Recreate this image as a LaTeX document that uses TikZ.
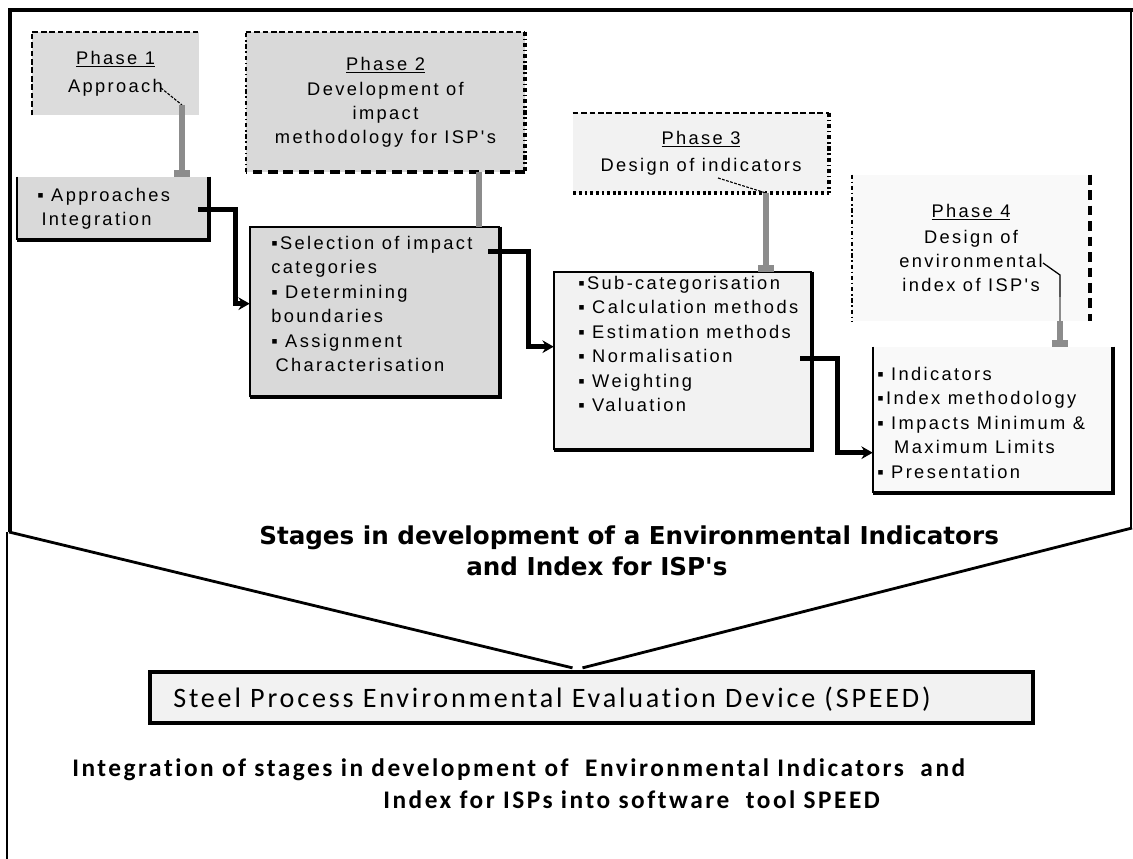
\documentclass[tikz,border=0pt]{standalone}
\usepackage{fontspec}
\setmainfont{Liberation Sans}
\newfontfamily\boxfont[LetterSpace=13]{Liberation Sans}
\newfontfamily\toolfont[LetterSpace=10, Ligatures={NoCommon}]{Carlito}
\newfontfamily\headfont{DejaVu Sans}
\usetikzlibrary{calc,arrows.meta}

\definecolor{phasegray}{HTML}{DCDCDC}
\definecolor{stagegray}{HTML}{D9D9D9}
\definecolor{palegray}{HTML}{F2F2F2}
\definecolor{whitegray}{HTML}{F9F9F9}
\definecolor{linkgray}{HTML}{8C8C8C}

\begin{document}
\begin{tikzpicture}[
    x=0.025cm, y=-0.025cm,
    >={Stealth[length=8pt,width=9pt]},
    phase/.style={inner sep=0pt, align=center, font=\boxfont\fontsize{13}{17}\selectfont},
    stage/.style={inner sep=0pt},
    stagetext/.style={anchor=north west, inner sep=0pt, align=left, font=\boxfont\fontsize{13}{17.4}\selectfont},
    conn/.style={line width=3.6pt},
    link/.style={draw=linkgray, line width=4.2pt},
    foot/.style={link, -{Rectangle[length=5pt,width=11pt]}},
    callout/.style={line width=0.8pt, dash pattern=on 2pt off 1pt},
    thinedge/.style={line width=1.2pt},
    thickedge/.style={line width=2.6pt},
    shortdash/.style={dash pattern=on 4pt off 2pt},
    longdash/.style={dash pattern=on 7pt off 4pt},
    dotdash/.style={dash pattern=on 3pt off 2pt on 1pt off 2pt},
    heading/.style={font=\headfont\bfseries\fontsize{17.5}{20}\selectfont, inner sep=0pt, anchor=west},
    toolhead/.style={font=\toolfont\bfseries\fontsize{18}{20}\selectfont, inner sep=0pt, anchor=west}
]
\useasboundingbox (0,0) rectangle (1133,859);

% Outer frame
\draw[line width=3.4pt] (1133,10) -- (10,10) -- (10,532);
\draw[line width=1.4pt] (1131,10) -- (1131,528);
\draw[line width=1.2pt] (7,532) -- (7,859);

% Phases
\node[phase, fill=phasegray, minimum width=4.175cm, minimum height=2.075cm] (ph1) at (115.5,73.5) {\underline{Phase 1}\\[3pt]Approach};
\node[phase, fill=stagegray, minimum width=6.975cm, minimum height=3.5cm] (ph2) at (385.5,102) {\underline{Phase 2}\\[1pt]Development of\\impact\\methodology for ISP's};
\node[phase, fill=palegray, minimum width=6.4cm, minimum height=2cm] (ph3) at (701,153) {\underline{Phase 3}\\[2pt]Design of indicators};
\node[phase, fill=whitegray, minimum width=5.95cm, minimum height=3.65cm] (ph4) at (971,248) {\underline{Phase 4}\\[2pt]Design of\\environmental\\index of ISP's};

\draw[thinedge, shortdash] (ph1.south west) -- (ph1.north west) -- (ph1.north east);
\draw[thinedge, dotdash] (ph2.south west) -- (ph2.north west);
\draw[thinedge, shortdash] (ph2.north west) -- (ph2.north east);
\draw[thickedge, dotdash] (ph2.north east) -- (ph2.south east);
\draw[thickedge, longdash] (ph2.south east) -- (ph2.south west);
\draw[thinedge, shortdash] (ph3.north west) -- (ph3.north east);
\draw[thickedge, dotdash] (ph3.north east) -- (ph3.south east);
\draw[thickedge, dash pattern=on 2pt off 2pt] (ph3.south east) -- (ph3.south west);
\draw[thinedge, dotdash] (ph4.north west) -- (ph4.south west);
\draw[thickedge, longdash] (ph4.north east) -- (ph4.south east);

% Stages
\node[stage, fill=stagegray, minimum width=4.8cm, minimum height=1.575cm] (appr) at (113,208.5) {};
\node[stage, fill=stagegray, minimum width=6.25cm, minimum height=4.25cm] (impact) at (375,312) {};
\node[stage, fill=palegray, minimum width=6.45cm, minimum height=4.45cm] (indic) at (683,361) {};
\node[stage, fill=whitegray, minimum width=6cm, minimum height=3.65cm] (envidx) at (993,420) {};

\draw[thinedge] (appr.north west) -- (appr.south west);
\draw[thickedge] (appr.north east) -- (appr.south east) -- (appr.south west);
\draw[thinedge] (impact.south west) -- (impact.north west) -- (impact.north east);
\draw[thickedge] (impact.north east) -- (impact.south east) -- (impact.south west);
\draw[thinedge] (indic.south west) -- (indic.north west) -- (indic.north east);
\draw[thickedge] (indic.north east) -- (indic.south east) -- (indic.south west);
\draw[thinedge] (envidx.north west) -- (envidx.south west);
\draw[thickedge] (envidx.north east) -- (envidx.south east) -- (envidx.south west);

\node[stagetext] (apprtxt) at (37,188) {▪ Approaches\\\hspace*{3pt}Integration};
\node[stagetext] (impacttxt) at (271,236) {▪Selection of impact\\categories\\▪ Determining\\boundaries\\▪ Assignment\\\hspace*{3pt}Characterisation};
\node[stagetext] (indictxt) at (578,276) {▪Sub-categorisation\\▪ Calculation methods\\▪ Estimation methods\\▪ Normalisation\\▪ Weighting\\▪ Valuation};
\node[stagetext] (envidxtxt) at (877,367) {▪ Indicators\\▪Index methodology\\▪ Impacts Minimum \&\\\hspace*{12pt}Maximum Limits\\▪ Presentation};

% Stage connections
\draw[conn, ->] ($(appr.north east)+(-11,33)$) -- ++(37,0) |- ($(impact.north west)+(0,77)$);
\draw[conn, ->] ($(impact.north east)+(-12,25)$) -- ++(40,0) |- ($(indic.north west)+(0,75)$);
\draw[conn, ->] ($(indic.north east)+(-12,87)$) -- ++(37,0) |- ($(envidx.north west)+(0,106)$);

% Phase links
\coordinate (c1t) at (161,88);
\coordinate (c1) at (182,105);
\draw[callout] (c1t) -- (c1);
\draw[foot] (c1) -- (c1 |- appr.north);

\coordinate (c2) at (479,172);
\draw[link] (c2) -- (c2 |- impact.north);

\coordinate (c3t) at (718,178);
\coordinate (c3) at (766,193);
\draw[callout] (c3t) -- (c3);
\draw[foot] (c3) -- (c3 |- indic.north);

\coordinate (c4t) at (1043,263);
\coordinate (c4) at (1060,275);
\draw[line width=0.9pt] (c4t) -- (c4) -- ++(0,22);
\draw[link, line width=1.8pt] ($(c4)+(0,22)$) -- (c4 |- ph4.south);
\draw[foot] (c4 |- ph4.south) -- (c4 |- envidx.north);

% Stages title
\node[heading] (stages) at (259,538) {Stages in development of a Environmental Indicators};
\node[heading] (stages2) at (466,566) {and Index for ISP's};

% Software tool
\node[draw, line width=3pt, fill=palegray, minimum width=22.075cm, minimum height=1.275cm, inner sep=0pt] (speed) at (591.5,697.5) {};
\node[font=\toolfont\fontsize{20}{22}\selectfont, anchor=west, inner sep=0pt] (speedlbl) at (173,699) {Steel Process Environmental Evaluation Device (SPEED)};

\coordinate (vl) at (9,532);
\coordinate (vr) at (1132,528);
\draw[line width=2pt] (vl) -- ($(speed.north)+(-19,-2)$);
\draw[line width=2pt] (vr) -- ($(speed.north)+(-9,-2)$);

\node[toolhead] (integ) at (72,770) {Integration of stages in development of\ \ Environmental Indicators\ \ and};
\node[toolhead] (integ2) at (383,800) {Index for ISPs into software\ \ tool SPEED};

\end{tikzpicture}
\end{document}
